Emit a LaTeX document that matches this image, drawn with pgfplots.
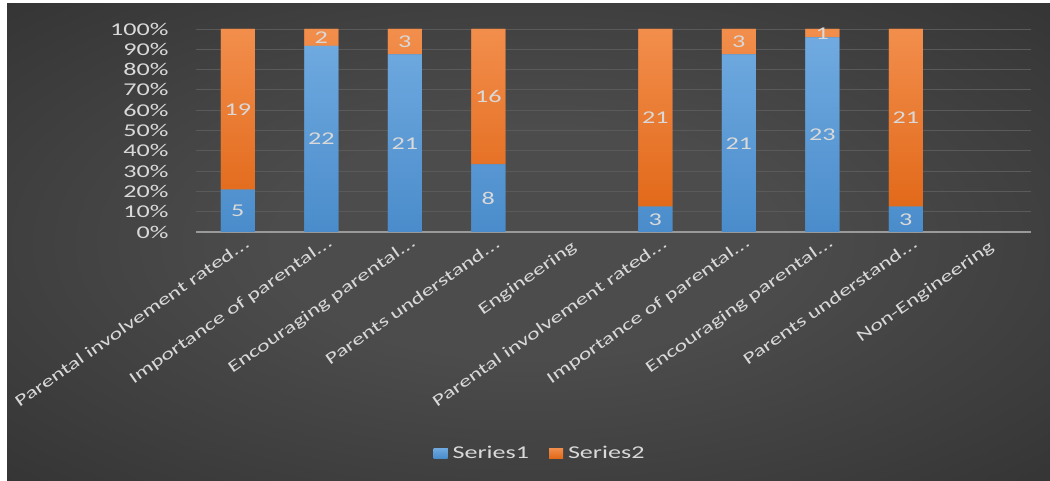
\documentclass[border=0pt]{standalone}
\usepackage{pgfplots}
\pgfplotsset{compat=1.18}
\usepackage{pgfplotstable}
\usepackage{fontspec}
\setmainfont{Carlito}[FakeStretch=1.45]
\definecolor{sblue}{HTML}{5B9BD5}
\definecolor{sbluetop}{HTML}{70AAE0}
\definecolor{sbluebot}{HTML}{4A8CCB}
\definecolor{sorange}{HTML}{ED7D31}
\definecolor{sorangetop}{HTML}{F28E4C}
\definecolor{sorangebot}{HTML}{E2691A}
\definecolor{lbl}{HTML}{D9D9D9}
\definecolor{gridc}{HTML}{5A5A5A}
\definecolor{axc}{HTML}{9A9A9A}
\definecolor{bginner}{HTML}{4C4C4C}
\definecolor{bgouter}{HTML}{222222}
\pgfdeclareradialshading{bgshade}{\pgfpoint{0bp}{0bp}}{color(0bp)=(bginner); color(12bp)=(bginner); color(55bp)=(bgouter); color(72bp)=(bgouter)}
\newcommand\lf{\fontsize{18bp}{21bp}\selectfont}
\newcommand\cf{\fontsize{16.5bp}{20bp}\selectfont}
\newcommand\dd{.\kern0.5pt.\kern0.5pt.\kern-8bp}
\pgfplotstableread{
x s1 s2
0 5 19
1 22 2
2 21 3
3 8 16
5 3 21
6 21 3
7 23 1
8 3 21
}\datatab
\begin{document}
\begin{tikzpicture}
\fill[white] (0,0) rectangle (1050bp,481bp);
\shade[shading=bgshade] (7bp,0) rectangle (1050bp,477bp);
\begin{axis}[
  at={(196bp,249bp)}, anchor=south west,
  scale only axis, width=835bp, height=203bp,
  ybar stacked, bar width=34bp,
  xmin=-0.5, xmax=9.5, ymin=0, ymax=100,
  xtick={0,1,2,3,4,5,6,7,8,9},
  xticklabels={{Parental involvement rated\dd},{Importance of parental\dd},{Encouraging parental\dd},{Parents understand\dd},{Engineering},{Parental involvement rated\dd},{Importance of parental\dd},{Encouraging parental\dd},{Parents understand\dd},{Non-Engineering}},
  ytick={0,10,20,30,40,50,60,70,80,90,100},
  yticklabel={\pgfmathprintnumber{\tick}\%},
  /pgf/number format/assume math mode=true,
  axis y line*=left, y axis line style={draw=none},
  axis x line*=bottom, x axis line style={draw=axc, line width=1.6bp},
  major tick length=0pt,
  ymajorgrids, grid style={draw=gridc, line width=0.8bp},
  tick label style={font=\lf, text=lbl},
  yticklabel style={xshift=-24bp},
  xticklabel style={font=\cf, rotate=35, anchor=east, yshift=-13bp, xshift=-2bp},
  point meta=explicit,
  nodes near coords={\pgfmathprintnumber{\pgfplotspointmeta}},
  every node near coord/.append style={font=\lf, text=lbl, anchor=center},
  legend style={at={(0.412,-1.089)}, anchor=center, draw=none, fill=none, font=\lf, text=lbl,
    legend columns=2, /tikz/every even column/.append style={column sep=18bp},
    /tikz/every odd column/.append style={column sep=3bp}},
  legend image code/.code={\fill[#1] (0bp,-5bp) rectangle (14bp,5bp);},
]
\addplot[draw=none, top color=sbluetop, bottom color=sbluebot, fill=sblue]
  table[x=x, y expr={100*\thisrow{s1}/(\thisrow{s1}+\thisrow{s2})}, meta=s1]{\datatab};
\addlegendentry{Series1}
\addplot[draw=none, top color=sorangetop, bottom color=sorangebot, fill=sorange]
  table[x=x, y expr={100*\thisrow{s2}/(\thisrow{s1}+\thisrow{s2})}, meta=s2]{\datatab};
\addlegendentry{Series2}
\end{axis}
\end{tikzpicture}
\end{document}
